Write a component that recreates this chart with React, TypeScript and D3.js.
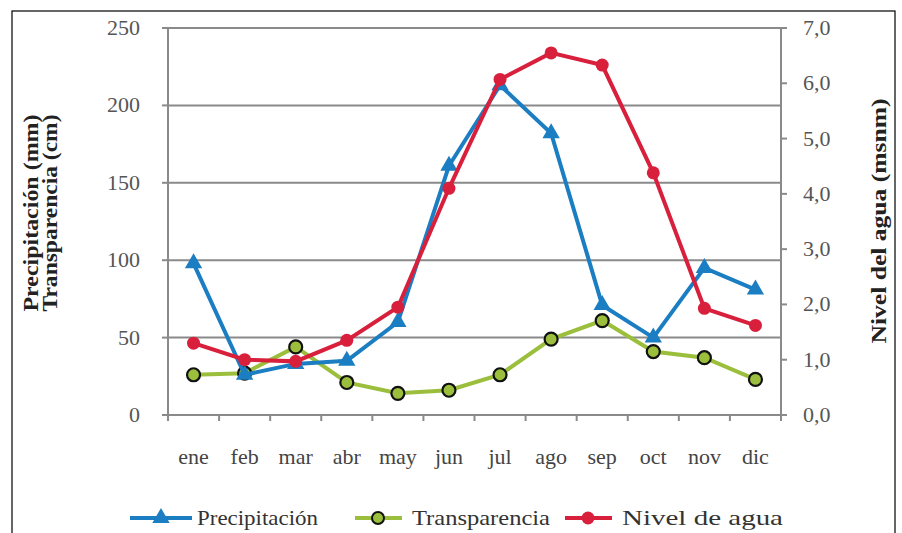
import React from "react";
import * as d3 from "d3";

const months = ["ene", "feb", "mar", "abr", "may", "jun", "jul", "ago", "sep", "oct", "nov", "dic"];
const precipitacion = [98, 26, 33, 35, 60, 161, 213, 182, 71, 50, 95, 81];
const transparencia = [26, 27, 44, 21, 14, 16, 26, 49, 61, 41, 37, 23];
const nivelAgua = [1.3, 1.0, 0.97, 1.35, 1.95, 4.1, 6.07, 6.55, 6.33, 4.38, 1.93, 1.62];
const leftTicks = [0, 50, 100, 150, 200, 250];
const rightTicks = [0, 1, 2, 3, 4, 5, 6, 7];

const W = 902, H = 533;
const L = 168, R = 781, T = 28, B = 415;
const BLUE = "#1b7dc2", GREEN = "#9bbf3c", RED = "#d8203c", GRID = "#8a8a8a";
const FONT = "'Liberation Serif', 'Times New Roman', serif";

export default function App() {
  const x = d3.scaleBand<string>().domain(months).range([L, R]);
  const yL = d3.scaleLinear().domain([0, 250]).range([B, T]);
  const yR = d3.scaleLinear().domain([0, 7]).range([B, T]);
  const cx = (m: string) => (x(m) as number) + x.bandwidth() / 2;

  const lineL = d3.line<number>().x((_, i) => cx(months[i])).y((d) => yL(d));
  const lineR = d3.line<number>().x((_, i) => cx(months[i])).y((d) => yR(d));
  const tri = d3.symbol().type(d3.symbolTriangle).size(130)() as string;

  return (
    <svg width={W} height={H} style={{ position: "absolute", left: 0, top: 0, background: "#fff" }} fontFamily={FONT}>
      <rect x={12} y={11} width={883} height={540} fill="#fff" stroke="#000" strokeWidth={1.2} />
      {leftTicks.filter((t) => t > 0).map((t) => (
        <line key={"g" + t} x1={L} x2={R} y1={yL(t)} y2={yL(t)} stroke={GRID} strokeWidth={2} />
      ))}
      {/* axes */}
      <line x1={L} x2={L} y1={T} y2={B} stroke={GRID} strokeWidth={2} />
      <line x1={R} x2={R} y1={T} y2={B} stroke={GRID} strokeWidth={2} />
      <line x1={L} x2={R} y1={B} y2={B} stroke={GRID} strokeWidth={2} />
      {leftTicks.map((t) => (
        <g key={"l" + t}>
          <line x1={L - 6} x2={L} y1={yL(t)} y2={yL(t)} stroke={GRID} strokeWidth={2} />
          <text x={140} y={yL(t) + 7} textAnchor="end" fontSize={22} fill="#555">{t}</text>
        </g>
      ))}
      {rightTicks.map((t) => (
        <g key={"r" + t}>
          <line x1={R} x2={R + 6} y1={yR(t)} y2={yR(t)} stroke={GRID} strokeWidth={2} />
          <text x={803} y={yR(t) + 7} textAnchor="start" fontSize={22} fill="#555">{t.toFixed(1).replace(".", ",")}</text>
        </g>
      ))}
      {months.map((m, i) => (
        <g key={"x" + m}>
          <line x1={(x(m) as number)} x2={(x(m) as number)} y1={B} y2={B + 6} stroke={GRID} strokeWidth={2} />
          {i === months.length - 1 && <line x1={R} x2={R} y1={B} y2={B + 6} stroke={GRID} strokeWidth={2} />}
          <text x={cx(m)} y={464} textAnchor="middle" fontSize={22} fill="#444">{m}</text>
        </g>
      ))}
      {/* axis titles */}
      <text transform="translate(38,213) rotate(-90)" textAnchor="middle" fontSize={20} fontWeight="bold" fill="#222" textLength={197} lengthAdjust="spacingAndGlyphs">Precipitación (mm)</text>
      <text transform="translate(57,213) rotate(-90)" textAnchor="middle" fontSize={20} fontWeight="bold" fill="#222" textLength={197} lengthAdjust="spacingAndGlyphs">Transparencia (cm)</text>
      <text transform="translate(886,221) rotate(-90)" textAnchor="middle" fontSize={21} fontWeight="bold" fill="#222" textLength={245} lengthAdjust="spacingAndGlyphs">Nivel del agua (msnm)</text>

      {/* series */}
      <path d={lineL(transparencia) as string} fill="none" stroke={GREEN} strokeWidth={4} />
      {transparencia.map((v, i) => (
        <circle key={"t" + i} cx={cx(months[i])} cy={yL(v)} r={6.5} fill={GREEN} stroke="#111" strokeWidth={2.2} />
      ))}
      <path d={lineL(precipitacion) as string} fill="none" stroke={BLUE} strokeWidth={4} />
      {precipitacion.map((v, i) => (
        <path key={"p" + i} d={tri} transform={`translate(${cx(months[i])},${yL(v)})`} fill={BLUE} />
      ))}
      <path d={lineR(nivelAgua) as string} fill="none" stroke={RED} strokeWidth={4} />
      {nivelAgua.map((v, i) => (
        <circle key={"n" + i} cx={cx(months[i])} cy={yR(v)} r={6.5} fill={RED} />
      ))}

      {/* legend */}
      <g fontSize={21} fill="#333">
        <line x1={130} x2={192} y1={518} y2={518} stroke={BLUE} strokeWidth={4} />
        <path d={tri} transform="translate(161,518)" fill={BLUE} />
        <text x={197} y={525} textLength={121} lengthAdjust="spacingAndGlyphs">Precipitación</text>
        <line x1={355} x2={402} y1={518} y2={518} stroke={GREEN} strokeWidth={4} />
        <circle cx={378} cy={518} r={6} fill={GREEN} stroke="#111" strokeWidth={2} />
        <text x={412} y={525} textLength={138} lengthAdjust="spacingAndGlyphs">Transparencia</text>
        <line x1={565} x2={612} y1={518} y2={518} stroke={RED} strokeWidth={4} />
        <circle cx={588} cy={518} r={6.5} fill={RED} />
        <text x={622} y={525} textLength={161} lengthAdjust="spacingAndGlyphs">Nivel de agua</text>
      </g>
    </svg>
  );
}
